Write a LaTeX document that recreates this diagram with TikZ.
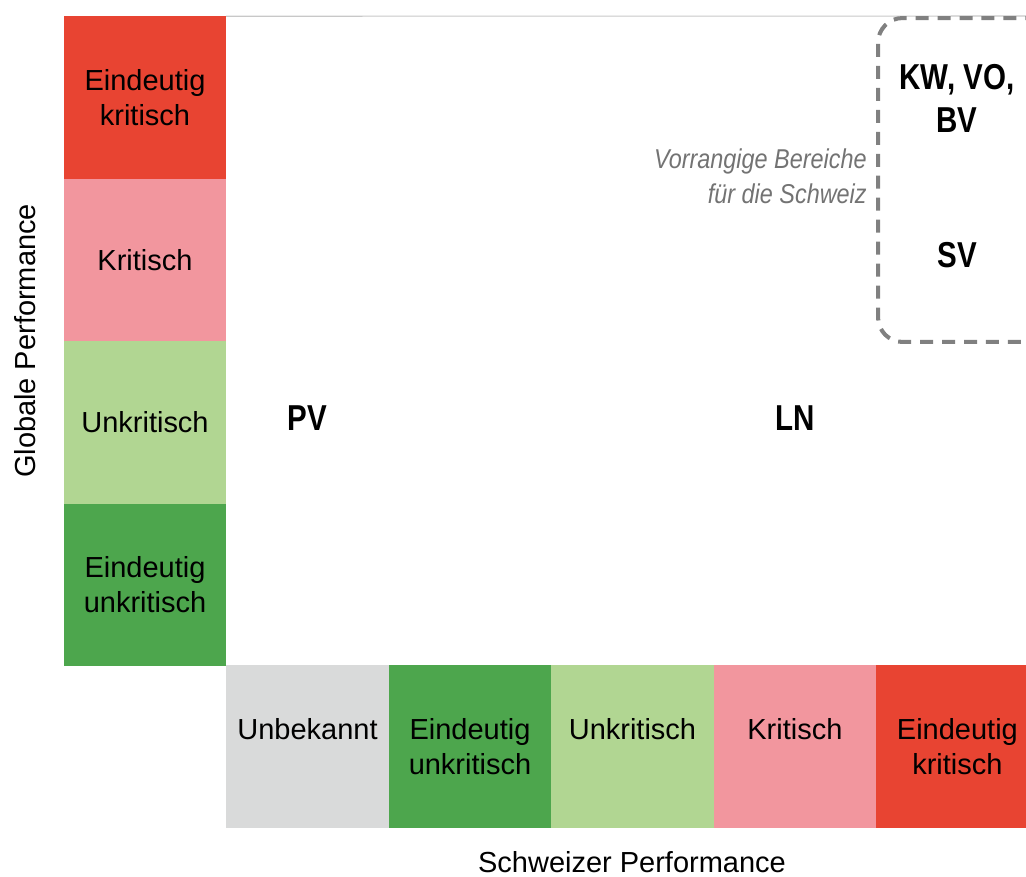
\documentclass[tikz,border=0pt]{standalone}
\usepackage{fontspec}
\setmainfont{Liberation Sans}
\newfontfamily\narrowfont{Liberation Sans}[FakeStretch=0.82]
\newfontfamily\notefont{Liberation Sans}[FakeStretch=0.86]
\usetikzlibrary{positioning}
\definecolor{clearred}{RGB}{232, 68, 50}
\definecolor{softred}{RGB}{242, 150, 158}
\definecolor{softgreen}{RGB}{177, 214, 146}
\definecolor{cleargreen}{RGB}{77, 166, 77}
\definecolor{unknowngray}{RGB}{217, 218, 218}
\definecolor{framegray}{RGB}{128, 128, 128}
\definecolor{linegray}{RGB}{200, 200, 200}
\definecolor{notegray}{RGB}{115, 115, 115}

\begin{document}
\begin{tikzpicture}[
	x=0.02cm, y=-0.02cm,
	% rating cells
	cell/.style={
			rectangle,
			minimum width=3.25cm,
			minimum height=3.25cm,
			inner sep=0pt,
			outer sep=0pt,
			align=center,
			text=black,
			font=\fontsize{16.5}{20}\selectfont
		},
	% bold area codes
	areacode/.style={
			align=center,
			inner sep=0pt,
			text=black,
			font=\narrowfont\bfseries\fontsize{20.5}{24.5}\selectfont
		},
	note/.style={
			align=right,
			inner sep=0pt,
			text=notegray,
			font=\notefont\itshape\fontsize{15.5}{20}\selectfont
		},
	axislabel/.style={
			inner sep=0pt,
			text=black,
			font=\fontsize{16.5}{20}\selectfont
		},
	focusbox/.style={
			rectangle,
			rounded corners=14pt,
			draw=framegray,
			line width=2.3pt,
			dash pattern=on 7.4pt off 5.1pt,
			minimum width=3.7cm,
			minimum height=6.48cm,
			inner sep=0pt
		},
	topline/.style={
			draw=linegray,
			line width=0.6pt
		}
	]

	\clip (0, 0) rectangle (1026, 876);

	% Global performance column
	\node[cell, fill=clearred] (gek) at (145, 97.5) {Eindeutig\\kritisch};
	\node[cell, fill=softred, below=0pt of gek] (gk) {Kritisch};
	\node[cell, fill=softgreen, below=0pt of gk] (guk) {Unkritisch};
	\node[cell, fill=cleargreen, below=0pt of guk] (geuk) {Eindeutig\\unkritisch};

	% Swiss performance row
	\node[cell, fill=unknowngray] (sub) at (307.5, 746.5) {Unbekannt\\\mbox{}};
	\node[cell, fill=cleargreen, right=0pt of sub] (seuk) {Eindeutig\\unkritisch};
	\node[cell, fill=softgreen, right=0pt of seuk] (suk) {Unkritisch\\\mbox{}};
	\node[cell, fill=softred, right=0pt of suk] (sk) {Kritisch\\\mbox{}};
	\node[cell, fill=clearred, right=0pt of sk] (sek) {Eindeutig\\kritisch};

	% Upper frame line
	\coordinate (topend) at (1026, 16);
	\draw[topline] (gek.north east) -- (topend);

	% Priority areas
	\node[focusbox, anchor=north west] (focus) at (876, 16) {};
	\node[areacode] (kw) at (957, 98) {KW, VO,\\BV};
	\node[areacode] (sv) at (957, 255) {SV};
	\node[note, anchor=east] (prio) at (867, 176) {Vorrangige Bereiche\\für die Schweiz};

	% Areas in the matrix
	\node[areacode] (pv) at (307, 418) {PV};
	\node[areacode] (ln) at (795, 418) {LN};

	% Axis labels
	\node[axislabel, rotate=90] (glob) at (25, 341) {Globale Performance};
	\node[axislabel] (swiss) at (632, 862) {Schweizer Performance};

\end{tikzpicture}
\end{document}
